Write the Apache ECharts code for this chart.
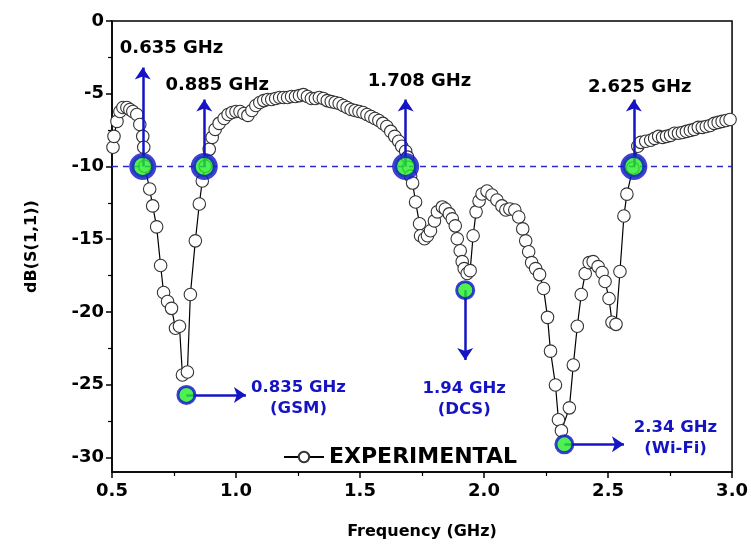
<!DOCTYPE html>
<html><head><meta charset="utf-8">
<script src="https://cdn.jsdelivr.net/npm/echarts@6/dist/echarts.min.js"></script>
<style>html,body{margin:0;padding:0;background:#fff}#c{width:751px;height:553px}</style>
</head><body><div id="c"></div>
<script>
// ---- data ----
const freqGHz = [0.504,0.508,0.520,0.532,0.544,0.560,0.572,0.584,0.600,0.612,0.624,0.628,0.632,0.652,0.664,0.680,0.696,0.708,0.724,0.740,0.756,0.772,0.784,0.804,0.816,0.836,0.852,0.864,0.876,0.892,0.904,0.916,0.932,0.952,0.968,0.984,1.000,1.016,1.032,1.048,1.064,1.080,1.096,1.112,1.128,1.144,1.160,1.176,1.192,1.208,1.224,1.240,1.256,1.272,1.288,1.304,1.320,1.336,1.352,1.368,1.384,1.400,1.416,1.432,1.448,1.464,1.480,1.496,1.512,1.528,1.544,1.560,1.576,1.592,1.608,1.624,1.640,1.656,1.668,1.684,1.692,1.696,1.704,1.712,1.724,1.740,1.744,1.760,1.772,1.784,1.800,1.812,1.832,1.844,1.860,1.872,1.884,1.892,1.904,1.912,1.920,1.932,1.944,1.956,1.968,1.980,1.992,2.012,2.032,2.052,2.072,2.088,2.104,2.124,2.140,2.156,2.168,2.180,2.192,2.208,2.224,2.240,2.256,2.268,2.288,2.300,2.312,2.344,2.360,2.376,2.392,2.408,2.424,2.440,2.460,2.476,2.488,2.504,2.516,2.532,2.548,2.564,2.576,2.600,2.620,2.632,2.652,2.672,2.688,2.704,2.720,2.736,2.752,2.768,2.784,2.800,2.816,2.832,2.848,2.864,2.880,2.896,2.912,2.928,2.944,2.960,2.976,2.992];
const s11dB = [-8.68,-7.93,-6.90,-6.22,-5.95,-5.95,-6.08,-6.22,-6.43,-7.11,-7.93,-8.68,-9.98,-11.55,-12.71,-14.15,-16.81,-18.66,-19.28,-19.75,-21.12,-20.98,-24.33,-24.13,-18.80,-15.11,-12.58,-11.00,-9.98,-8.82,-8.00,-7.45,-7.04,-6.70,-6.43,-6.29,-6.22,-6.22,-6.36,-6.49,-6.15,-5.81,-5.60,-5.47,-5.40,-5.40,-5.33,-5.26,-5.26,-5.26,-5.19,-5.19,-5.13,-5.06,-5.19,-5.33,-5.33,-5.26,-5.33,-5.47,-5.54,-5.60,-5.67,-5.81,-5.95,-6.08,-6.15,-6.22,-6.29,-6.43,-6.56,-6.70,-6.84,-7.04,-7.25,-7.59,-7.93,-8.27,-8.61,-8.95,-9.36,-10.05,-10.66,-11.14,-12.44,-13.94,-14.76,-14.97,-14.76,-14.42,-13.74,-13.12,-12.78,-12.92,-13.26,-13.60,-14.08,-14.97,-15.79,-16.54,-17.02,-17.36,-17.16,-14.76,-13.12,-12.37,-11.89,-11.69,-11.96,-12.30,-12.71,-12.99,-12.92,-12.99,-13.47,-14.29,-15.11,-15.86,-16.61,-17.02,-17.43,-18.39,-20.37,-22.69,-25.02,-27.41,-28.16,-26.59,-23.65,-20.98,-18.80,-17.36,-16.61,-16.54,-16.88,-17.29,-17.91,-19.07,-20.71,-20.85,-17.22,-13.40,-11.90,-10.10,-8.61,-8.34,-8.27,-8.20,-8.07,-7.93,-8.00,-7.93,-7.86,-7.72,-7.72,-7.66,-7.59,-7.52,-7.45,-7.31,-7.31,-7.25,-7.18,-7.04,-6.97,-6.90,-6.84,-6.77];
const xTickLabels = ['0.5','1.0','1.5','2.0','2.5','3.0'];
const yTicks = [0,-5,-10,-15,-20,-25,-30];
const yMinorTicks = [-2.5,-7.5,-12.5,-17.5,-22.5,-27.5];
const refLevelDB = -10;
const edgeFreq = [0.624,0.872,1.684,2.604];
const edgeDB = [-10,-10,-10,-10];
const edgeLabels = ['0.635 GHz','0.885 GHz','1.708 GHz','2.625 GHz'];
const resFreq = [0.800,1.924,2.324];
const resDB = [-25.7,-18.5,-29.1];
const resLabels = ['0.835 GHz\n(GSM)','1.94 GHz\n(DCS)','2.34 GHz\n(Wi-Fi)'];

// ---- layout of annotations (positions in data units) ----
const edgeLabelPos = [[0.74,-1.85],[0.924,-4.44],[1.74,-4.17],[2.628,-4.58]];
const edgeArrowTip = [-3.2,-5.4,-5.4,-5.4];
const resLabelPos = [[1.252,-25.9],[1.92,-25.97],[2.772,-28.7]];
const resArrowEnd = [[1.04,-25.7],[1.924,-23.3],[2.564,-29.1]];

const FONT = 'DejaVu Sans';
const BLUE = '#1414c4';
const curve = freqGHz.map((f,i)=>[f,s11dB[i]]);

const arrows = [];
edgeFreq.forEach((f,i)=>arrows.push([{coord:[f,edgeDB[i]]},{coord:[f,edgeArrowTip[i]]}]));
resFreq.forEach((f,i)=>arrows.push([{coord:[f,resDB[i]]},{coord:resArrowEnd[i]}]));

const chart = echarts.init(document.getElementById('c'), null, {renderer:'canvas'});
chart.setOption({
  animation:false,
  backgroundColor:'#fff',
  grid:{left:112,right:14,top:21,bottom:81,show:true,borderColor:'#000',borderWidth:1.5,backgroundColor:'transparent'},
  legend:{
    data:['EXPERIMENTAL'], left:278, top:441, itemWidth:40, itemHeight:13, itemGap:8,
    textStyle:{fontFamily:FONT,fontWeight:'bold',fontSize:22,color:'#000'}
  },
  xAxis:{
    type:'value', min:0.5, max:3.0, interval:0.5,
    name:'Frequency (GHz)', nameLocation:'middle', nameGap:52,
    nameTextStyle:{fontFamily:FONT,fontWeight:'bold',fontSize:16,color:'#000'},
    axisLine:{show:true,onZero:false,lineStyle:{color:'#000',width:1.5}},
    axisTick:{show:true,length:6,lineStyle:{color:'#000',width:1.5}},
    minorTick:{show:true,splitNumber:2,length:4,lineStyle:{color:'#000',width:1.2}},
    splitLine:{show:false},
    axisLabel:{fontFamily:FONT,fontWeight:'bold',fontSize:18,color:'#000',margin:10,
      formatter:(v)=>xTickLabels[Math.round((v-0.5)/0.5)]}
  },
  yAxis:[{
    type:'value', min:-31, max:0,
    name:'dB(S(1,1))', nameLocation:'middle', nameGap:72, nameRotate:90,
    nameTextStyle:{fontFamily:FONT,fontWeight:'bold',fontSize:16,color:'#000'},
    axisLine:{show:true,onZero:false,lineStyle:{color:'#000',width:1.5}},
    axisTick:{show:true,length:6,customValues:yTicks,lineStyle:{color:'#000',width:1.5}},
    splitLine:{show:false},
    axisLabel:{fontFamily:FONT,fontWeight:'bold',fontSize:18,color:'#000',margin:8,customValues:yTicks}
  },{
    type:'value', min:-31, max:0, position:'left',
    axisLine:{show:false}, splitLine:{show:false},
    axisTick:{show:true,length:4,customValues:yMinorTicks,lineStyle:{color:'#000',width:1.2}},
    axisLabel:{show:false,customValues:yMinorTicks}
  }],
  series:[
    {
      name:'EXPERIMENTAL', type:'line', data:curve, z:2,
      symbol:'circle', symbolSize:12.5, showSymbol:true,
      lineStyle:{color:'#000',width:1.2},
      itemStyle:{color:'#fff',borderColor:'#333',borderWidth:1.1},
      markLine:{
        silent:true, symbol:['none','none'], label:{show:false},
        lineStyle:{color:'#2a2ad0',width:1.4,type:[6,5]},
        data:[{yAxis:refLevelDB}]
      }
    },
    {
      name:'arrows', type:'scatter', data:[], z:4,
      markLine:{
        silent:true, symbol:['none','arrow'], symbolSize:12, label:{show:false},
        itemStyle:{color:BLUE},
        lineStyle:{color:BLUE,width:2.5,type:'solid'},
        data:arrows
      }
    },
    {
      name:'edges', type:'scatter', z:6, symbol:'circle', symbolSize:22,
      itemStyle:{color:'#25ec25',borderColor:'#1010cc',borderWidth:5},
      data:edgeFreq.map((f,i)=>[f,edgeDB[i]])
    },
    {
      name:'res', type:'scatter', z:6, symbol:'circle', symbolSize:17,
      itemStyle:{color:'#25ec25',borderColor:'#1010cc',borderWidth:3},
      data:resFreq.map((f,i)=>[f,resDB[i]])
    },
    {
      name:'edgeText', type:'scatter', z:7, symbolSize:0, itemStyle:{color:'#000',opacity:1},
      label:{show:true,position:'inside',formatter:'{b}',fontFamily:FONT,fontWeight:'bold',fontSize:18,color:'#000',opacity:1,textBorderWidth:0},
      data:edgeLabels.map((t,i)=>({name:t,value:edgeLabelPos[i]}))
    },
    {
      name:'resText', type:'scatter', z:7, symbolSize:0, itemStyle:{color:BLUE,opacity:1},
      label:{show:true,position:'inside',formatter:'{b}',fontFamily:FONT,fontWeight:'bold',fontSize:16.5,lineHeight:21,color:BLUE,align:'center',opacity:1,textBorderWidth:0},
      data:resLabels.map((t,i)=>({name:t,value:resLabelPos[i]}))
    }
  ]
});
</script></body></html>
